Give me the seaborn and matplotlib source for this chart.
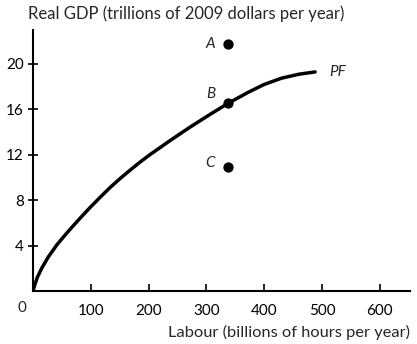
import matplotlib
matplotlib.use("Agg")
import matplotlib.pyplot as plt
import seaborn as sns
import pandas as pd

# Production function
labour = [0, 3.5, 7.5, 15, 26.5, 41, 55, 67, 83, 99, 116, 133, 150, 168, 185,
          202, 237, 272, 306, 338, 372, 400, 430, 460, 488]
real_gdp = [0, 0.6, 1.2, 2.0, 3.0, 4.05, 4.9, 5.6, 6.5, 7.37, 8.25, 9.1, 9.88,
            10.65, 11.35, 12.0, 13.25, 14.45, 15.55, 16.55, 17.5, 18.2, 18.75,
            19.1, 19.3]

# Labelled points
point_names = ["A", "B", "C"]
point_labour = [338, 338, 338]
point_gdp = [21.8, 16.6, 10.9]

x_ticks = [100, 200, 300, 400, 500, 600]
y_ticks = [4, 8, 12, 16, 20]

sns.set_style("white")
plt.rcParams['font.family'] = ['Lato', 'DejaVu Sans']

fig = plt.figure(figsize=(4.17, 3.44), dpi=100)
ax = fig.add_axes([0.0791, 0.154, 0.904, 0.759])

df_curve = pd.DataFrame({"labour": labour, "gdp": real_gdp})
sns.lineplot(data=df_curve, x="labour", y="gdp", ax=ax, color="black",
             linewidth=2.5, sort=False, estimator=None,
             solid_capstyle="round", solid_joinstyle="round")

df_pts = pd.DataFrame({"labour": point_labour, "gdp": point_gdp, "name": point_names})
sns.scatterplot(data=df_pts, x="labour", y="gdp", ax=ax, color="black",
                s=55, edgecolor="black", linewidth=0, zorder=5)

offsets = {"A": (-13, 0), "B": (-13, 6), "C": (-13, 3)}
for name, lx, gy in zip(point_names, point_labour, point_gdp):
    ax.annotate(name, xy=(lx, gy), xytext=offsets[name],
                textcoords="offset points", ha="center", va="center",
                fontsize=11, style="italic")
ax.annotate("PF", xy=(labour[-1], real_gdp[-1]), xytext=(10, 0),
            textcoords="offset points", ha="left", va="center",
            fontsize=11, style="italic")

ax.set_xlim(0, 652)
ax.set_ylim(0, 23)
ax.set_xticks(x_ticks)
ax.set_yticks(y_ticks)
ax.set_xticklabels([str(t) for t in x_ticks], fontsize=11)
ax.set_yticklabels([str(t) for t in y_ticks], fontsize=11)
ax.tick_params(axis="x", bottom=True, direction="in", length=5, width=1.2,
               pad=9, colors="black")
ax.tick_params(axis="y", left=True, direction="inout", length=7, width=1.2,
               pad=3, colors="black")
ax.set_xlabel("")
ax.set_ylabel("")

for s in ["top", "right"]:
    ax.spines[s].set_visible(False)
for s in ["left", "bottom"]:
    ax.spines[s].set_color("black")
    ax.spines[s].set_linewidth(1.5)

ax.annotate("0", xy=(0, 0), xytext=(-8, -12), textcoords="offset points",
            ha="center", va="center", fontsize=11)

fig.text(28 / 417, 1 - 14 / 344, "Real GDP (trillions of 2009 dollars per year)",
         ha="left", va="center", fontsize=12)
fig.text(410 / 417, 1 - 332 / 344, "Labour (billions of hours per year)",
         ha="right", va="center", fontsize=11.8)

fig.savefig("out.png", dpi=100)
